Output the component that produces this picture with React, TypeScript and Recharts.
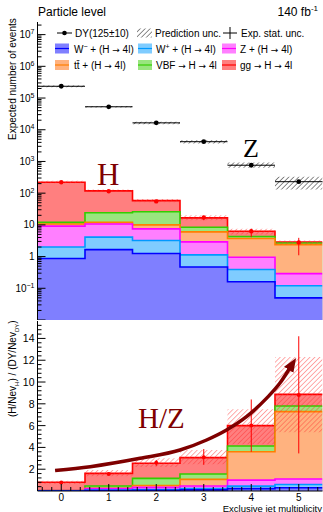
import React from "react"
import { ComposedChart, Area, Scatter, ErrorBar, Line, XAxis, YAxis } from "recharts"

const FONT = "'Liberation Sans', Arial, sans-serif"
const SERIF = "'Liberation Serif', 'Times New Roman', serif"
const MAROON = "#7f0000"

// exclusive jet multiplicity bins
const bins = [0, 1, 2, 3, 4, 5]
const binEdges = [-0.5, 0.5, 1.5, 2.5, 3.5, 4.5, 5.5]

// top panel: expected events per Higgs process (stacked bottom to top)
const evWMinus = [0.87, 1.66, 1.25, 0.47, 0.16, 0.05]
const evWPlus = [1.13, 2.44, 1.95, 0.66, 0.23, 0.07]
const evZ = [7.1, 6.6, 4.3, 1.77, 0.56, 0.17]
const evTtH = [1.6, 1.3, 2.5, 3.1, 2.75, 2.1]
const evVBF = [1.3, 12, 16, 2.4, 0.6, 0.3]
const evGG = [208, 94, 32, 8.2, 2.0, 0.2]

// H total with stat. error and prediction band
const evH = [220, 115, 55, 17, 6.3, 2.8]
const evHStatLo = [214, 111, 53, 14, 4.1, 1.1]
const evHStatHi = [226, 119, 57, 19.5, 7.6, 3.9]
const evHUncLo = [205, 108, 52, 14, 5.0, 2.4]
const evHUncHi = [245, 130, 65, 20, 7.5, 3.2]

// Drell-Yan (Z) expectation
const evDY = [2.35e5, 5.3e4, 1.65e4, 4.2e3, 760, 230]
const evDYUncLo = [2.2e5, 5.0e4, 1.5e4, 3.7e3, 630, 130]
const evDYUncHi = [2.5e5, 5.6e4, 1.8e4, 4.7e3, 930, 330]

// bottom panel: (H/Nev_H)/(DY/Nev_DY) per process
const rWMinus = [0.003, 0.03, 0.06, 0.1, 0.22, 0.3]
const rWPlus = [0.007, 0.05, 0.08, 0.13, 0.23, 0.3]
const rZ = [0.025, 0.14, 0.19, 0.23, 0.55, 0.5]
const rTtH = [0.005, 0.03, 0.17, 0.61, 2.6, 6.18]
const rVBF = [0.005, 0.21, 0.66, 0.49, 0.53, 0.52]
const rGG = [0.755, 1.16, 1.38, 1.5, 1.87, 1.07]

const rH = [0.77, 1.55, 2.6, 3.1, 6.0, 8.8]
const rStatLo = [0.72, 1.48, 2.3, 2.4, 3.6, 3.45]
const rStatHi = [0.84, 1.66, 2.85, 3.85, 8.4, 14.2]
const rUncLo = [0.65, 1.35, 2.2, 2.45, 4.3, 5.4]
const rUncHi = [0.95, 1.93, 3.0, 3.76, 7.5, 12.3]

// H/Z arrow path
const arrowX = [-0.13, 0.61, 1.66, 2.5, 3.06, 3.48, 3.9, 4.32, 4.6, 4.8]
const arrowY = [1.87, 2.23, 3.0, 3.76, 4.68, 5.6, 6.82, 8.5, 9.88, 11.2]

// tick labels
const xLabels = [0, 1, 2, 3, 4, 5]
const ratioLabels = [2, 4, 6, 8, 10, 12, 14]

const procStyles = [
  { key: "wm", fill: "#7f7fff", line: "#0000ff" },
  { key: "wp", fill: "#7fccff", line: "#0099ff" },
  { key: "z", fill: "#ff7fff", line: "#ff00ff" },
  { key: "tt", fill: "#ffb27f", line: "#ff7f00" },
  { key: "vbf", fill: "#99e57f", line: "#33cc00" },
  { key: "gg", fill: "#ff7f7f", line: "#ff0000" },
]

type Row = Record<string, number>

function cumulative(parts: number[][]): number[][] {
  const out: number[][] = []
  parts.forEach((p, j) => out.push(p.map((v, i) => v + (j > 0 ? out[j - 1][i] : 0))))
  return out
}

// one row per bin edge, last row repeats the last bin so the step closes
function stepRows(cols: Record<string, number[]>): Row[] {
  return binEdges.map((x, i) => {
    const b = Math.min(i, bins.length - 1)
    const row: Row = { x }
    Object.keys(cols).forEach((k) => (row[k] = cols[k][b]))
    return row
  })
}

const topCum = cumulative([evWMinus, evWPlus, evZ, evTtH, evVBF, evGG])
const topRows = stepRows({
  wm: topCum[0], wp: topCum[1], z: topCum[2], tt: topCum[3], vbf: topCum[4], gg: topCum[5],
  hLo: evHUncLo, hHi: evHUncHi, dyLo: evDYUncLo, dyHi: evDYUncHi,
})
const botCum = cumulative([rWMinus, rWPlus, rZ, rTtH, rVBF, rGG])
const botRows = stepRows({
  wm: botCum[0], wp: botCum[1], z: botCum[2], tt: botCum[3], vbf: botCum[4], gg: botCum[5],
  lo: rUncLo, hi: rUncHi,
})

const hPoints = bins.map((x, i) => ({ x, y: evH[i], ey: [evH[i] - evHStatLo[i], evHStatHi[i] - evH[i]] }))
const dyPoints = bins.map((x, i) => ({ x, y: evDY[i], ex: 0.5 }))
const rPoints = bins.map((x, i) => ({ x, y: rH[i], ey: [rH[i] - rStatLo[i], rStatHi[i] - rH[i]] }))
const arrowData = arrowX.map((x, i) => ({ x, y: arrowY[i] }))

const LOG_MIN = 0.01
const LOG_MAX = 2.5e7
const RATIO_MAX = 15.6

const logTicks: number[] = []
for (let n = -2; n <= 7; n++)
  for (let m = 1; m <= 9; m++) {
    const v = m * Math.pow(10, n)
    if (v < LOG_MAX) logTicks.push(v)
  }
const xTicks = Array.from({ length: 30 }, (_, i) => Number((-0.4 + i * 0.2).toFixed(1)))
const ratioTicks = Array.from({ length: 38 }, (_, i) => Number((0.4 + i * 0.4).toFixed(1)))

const isPow10 = (v: number) => {
  const l = Math.log10(v)
  return Math.abs(l - Math.round(l)) < 1e-6
}

function logTick(side: "left" | "right") {
  return (props: any) => {
    const { x, y, payload } = props
    const v = payload.value
    const major = isPow10(v)
    const n = Math.round(Math.log10(v))
    const len = (major ? 8 : 4) * (side === "left" ? 1 : -1)
    return (
      <g>
        <line x1={x} x2={x + len} y1={y} y2={y} stroke="#000" />
        {side === "left" && major && n >= -1 && (
          <text x={x - 3} y={y + 3.5} textAnchor="end" fontSize={10} fontFamily={FONT} fill="#000">
            {n === 0 ? "1" : n === 1 ? "10" : (
              <>
                10<tspan dy={-4} fontSize={7}>{n < 0 ? "\u2212" + -n : n}</tspan>
              </>
            )}
          </text>
        )}
      </g>
    )
  }
}

function ratioTick(side: "left" | "right") {
  return (props: any) => {
    const { x, y, payload } = props
    const v = payload.value
    const major = ratioLabels.includes(v)
    const len = (major ? 8 : 4) * (side === "left" ? 1 : -1)
    return (
      <g>
        <line x1={x} x2={x + len} y1={y} y2={y} stroke="#000" />
        {side === "left" && major && (
          <text x={x - 3} y={y + 4} textAnchor="end" fontSize={10.5} fontFamily={FONT} fill="#000">
            {v}
          </text>
        )}
      </g>
    )
  }
}

function xTick(dir: 1 | -1, labels: boolean) {
  return (props: any) => {
    const { x, y, payload } = props
    const v = payload.value
    const major = xLabels.includes(v)
    return (
      <g>
        <line x1={x} x2={x} y1={y} y2={y + dir * (major ? 7 : 4)} stroke="#000" />
        {labels && major && (
          <text x={x} y={y + 9.5} textAnchor="middle" fontSize={10} fontFamily={FONT} fill="#000">
            {v}
          </text>
        )}
      </g>
    )
  }
}

const dot = (r: number, fill: string) => (p: any) => <circle cx={p.cx} cy={p.cy} r={r} fill={fill} />

function TopPanel() {
  return (
    <ComposedChart width={323} height={320} data={topRows} margin={{ top: 22, right: 0.5, bottom: 0, left: 0 }}>
      <XAxis dataKey="x" type="number" domain={[-0.5, 5.5]} ticks={xTicks} interval={0} height={0}
        tickSize={0} tickMargin={0} tickLine={false} axisLine={{ stroke: "#000" }} tick={xTick(-1, false)} allowDataOverflow />
      <XAxis xAxisId="top" orientation="top" dataKey="x" type="number" domain={[-0.5, 5.5]} ticks={xTicks} interval={0} height={0}
        tickSize={0} tickMargin={0} tickLine={false} axisLine={{ stroke: "#000" }} tick={xTick(1, false)} allowDataOverflow />
      <YAxis type="number" scale="log" domain={[LOG_MIN, LOG_MAX]} ticks={logTicks} interval={0} width={37.5}
        tickSize={0} tickMargin={0} tickLine={false} axisLine={{ stroke: "#000" }} tick={logTick("left")} allowDataOverflow />
      <YAxis yAxisId="right" orientation="right" type="number" scale="log" domain={[LOG_MIN, LOG_MAX]} ticks={logTicks} interval={0} width={0}
        tickSize={0} tickMargin={0} tickLine={false} axisLine={{ stroke: "#000" }} tick={logTick("right")} allowDataOverflow />
      {[...procStyles].reverse().map((p) => (
        <Area key={p.key} type="stepAfter" dataKey={p.key} stroke={p.line} strokeWidth={1.6} fill={p.fill} fillOpacity={1}
          baseValue={LOG_MIN} dot={false} activeDot={false} isAnimationActive={false} />
      ))}
      <Area type="stepAfter" dataKey={(d: Row) => [d.hLo, d.hHi]} stroke="none" fill="url(#hatchRed)" fillOpacity={1}
        dot={false} activeDot={false} isAnimationActive={false} />
      <Area type="stepAfter" dataKey={(d: Row) => [d.dyLo, d.dyHi]} stroke="none" fill="url(#hatchBlack)" fillOpacity={1}
        dot={false} activeDot={false} isAnimationActive={false} />
      <Scatter data={dyPoints} dataKey="y" shape={dot(2.4, "#000")} isAnimationActive={false}>
        <ErrorBar dataKey="ex" direction="x" width={0} stroke="#000" strokeWidth={1} />
      </Scatter>
      <Scatter data={hPoints} dataKey="y" shape={dot(2.2, "#ff0000")} isAnimationActive={false}>
        <ErrorBar dataKey="ey" direction="y" width={0} stroke="#ff0000" strokeWidth={1} />
      </Scatter>
    </ComposedChart>
  )
}

function BottomPanel() {
  return (
    <ComposedChart width={323} height={192} data={botRows} margin={{ top: 1, right: 0.5, bottom: 0, left: 0 }}>
      <XAxis dataKey="x" type="number" domain={[-0.5, 5.5]} ticks={xTicks} interval={0} height={21}
        tickSize={0} tickMargin={0} tickLine={false} axisLine={{ stroke: "#000" }} tick={xTick(-1, true)} allowDataOverflow />
      <XAxis xAxisId="top" orientation="top" dataKey="x" type="number" domain={[-0.5, 5.5]} ticks={xTicks} interval={0} height={0}
        tickSize={0} tickMargin={0} tickLine={false} axisLine={{ stroke: "#000" }} tick={xTick(1, false)} allowDataOverflow />
      <YAxis type="number" domain={[0, RATIO_MAX]} ticks={ratioTicks} interval={0} width={37.5}
        tickSize={0} tickMargin={0} tickLine={false} axisLine={{ stroke: "#000" }} tick={ratioTick("left")} allowDataOverflow />
      <YAxis yAxisId="right" orientation="right" type="number" domain={[0, RATIO_MAX]} ticks={ratioTicks} interval={0} width={0}
        tickSize={0} tickMargin={0} tickLine={false} axisLine={{ stroke: "#000" }} tick={ratioTick("right")} allowDataOverflow />
      {[...procStyles].reverse().map((p) => (
        <Area key={p.key} type="stepAfter" dataKey={p.key} stroke={p.line} strokeWidth={1.6} fill={p.fill} fillOpacity={1}
          baseValue={0} dot={false} activeDot={false} isAnimationActive={false} />
      ))}
      <Area type="stepAfter" dataKey={(d: Row) => [d.lo, d.hi]} stroke="none" fill="url(#hatchRed)" fillOpacity={1}
        dot={false} activeDot={false} isAnimationActive={false} />
      <Scatter data={rPoints} dataKey="y" shape={dot(2, "#ff0000")} isAnimationActive={false}>
        <ErrorBar dataKey="ey" direction="y" width={0} stroke="#ff0000" strokeWidth={1} />
      </Scatter>
      <Line data={arrowData} dataKey="y" type="monotone" stroke={MAROON} strokeWidth={3.5} dot={false} activeDot={false}
        markerEnd="url(#arrowHead)" isAnimationActive={false} />
    </ComposedChart>
  )
}

function LegendBox({ x, y, fill, line }: { x: number; y: number; fill: string; line: string }) {
  return (
    <g>
      <rect x={x} y={y - 5} width={14} height={10} fill={fill} />
      <line x1={x} x2={x + 14} y1={y} y2={y} stroke={line} strokeWidth={1.2} />
    </g>
  )
}

const Arrow = () => <tspan fontFamily="'DejaVu Sans', sans-serif" fontSize={9}>{"\u2192"}</tspan>

function Overlay() {
  const t = { fontFamily: FONT, fontSize: 10, fill: "#000" }
  const sup = (s: string) => <tspan dy={-4} fontSize={7}>{s}</tspan>
  return (
    <svg width={323} height={512} style={{ position: "absolute", left: 0, top: 0, pointerEvents: "none" }}>
      <defs>
        <pattern id="hatchBlack" patternUnits="userSpaceOnUse" width={3.5} height={3.5} patternTransform="rotate(45)">
          <line x1={0} y1={0} x2={0} y2={3.5} stroke="#000" strokeWidth={0.9} />
        </pattern>
        <pattern id="hatchRed" patternUnits="userSpaceOnUse" width={3.5} height={3.5} patternTransform="rotate(45)">
          <line x1={0} y1={0} x2={0} y2={3.5} stroke="#ff3030" strokeWidth={0.8} />
        </pattern>
        <marker id="arrowHead" markerUnits="userSpaceOnUse" markerWidth={15} markerHeight={12} refX={1} refY={5.5} orient="auto">
          <path d="M0,0 L14,5.5 L0,11 z" fill={MAROON} />
        </marker>
      </defs>

      <text x={38} y={16} fontFamily={FONT} fontSize={12}>Particle level</text>
      <text x={318} y={16} textAnchor="end" fontFamily={FONT} fontSize={12}>
        140 fb<tspan dy={-5} fontSize={8}>-1</tspan>
      </text>

      <text transform="translate(16,140) rotate(-90)" {...t}>Expected number of events</text>
      <text transform="translate(16,417) rotate(-90)" {...t}>
        (H/Nev<tspan dy={3} fontSize={6}>H</tspan><tspan dy={-3}>) / (DY/Nev</tspan>
        <tspan dy={3} fontSize={6}>DY</tspan><tspan dy={-3}>)</tspan>
      </text>
      <text x={322} y={511.5} textAnchor="end" {...t} fontSize={9.5}>Exclusive jet multiplicity</text>

      {/* legend row 1 */}
      <line x1={57} x2={72} y1={33} y2={33} stroke="#000" />
      <circle cx={64.5} cy={33} r={2.3} fill="#000" />
      <text x={75} y={37} {...t}>DY(125±10)</text>
      <rect x={137} y={28.5} width={15} height={9} fill="url(#hatchBlack)" />
      <text x={155} y={37} {...t}>Prediction unc.</text>
      <line x1={223} x2={237} y1={33} y2={33} stroke="#000" />
      <line x1={230} x2={230} y1={27} y2={39} stroke="#000" />
      <text x={241} y={37} {...t}>Exp. stat. unc.</text>

      {/* legend rows 2 and 3 */}
      <LegendBox x={55} y={48.5} fill={procStyles[0].fill} line={procStyles[0].line} />
      <text x={74} y={52.5} {...t}>W{sup("\u2212")}<tspan dy={4}> + (H </tspan><Arrow /> 4l)</text>
      <LegendBox x={138} y={48.5} fill={procStyles[1].fill} line={procStyles[1].line} />
      <text x={156} y={52.5} {...t}>W{sup("+")}<tspan dy={4}> + (H </tspan><Arrow /> 4l)</text>
      <LegendBox x={222} y={48.5} fill={procStyles[2].fill} line={procStyles[2].line} />
      <text x={240} y={52.5} {...t}>Z + (H <Arrow /> 4l)</text>

      <LegendBox x={55} y={65} fill={procStyles[3].fill} line={procStyles[3].line} />
      <text x={74} y={69} {...t}>t{"t\u0304"} + (H <Arrow /> 4l)</text>
      <LegendBox x={138} y={65} fill={procStyles[4].fill} line={procStyles[4].line} />
      <text x={156} y={69} {...t}>VBF <Arrow /> H <Arrow /> 4l</text>
      <LegendBox x={222} y={65} fill={procStyles[5].fill} line={procStyles[5].line} />
      <text x={240} y={69} {...t}>gg <Arrow /> H <Arrow /> 4l</text>

      {/* annotations */}
      <text x={97} y={185} fontFamily={SERIF} fontSize={31} fill={MAROON}>H</text>
      <text x={243} y={157} fontFamily={SERIF} fontSize={26} fill="#000">Z</text>
      <text x={138} y={428} fontFamily={SERIF} fontSize={29} fill={MAROON}>H/Z</text>
    </svg>
  )
}

export default function App() {
  return (
    <div style={{ position: "absolute", left: 0, top: 0, width: 323, height: 512, background: "#fff" }}>
      <div style={{ position: "absolute", left: 0, top: 0 }}>
        <TopPanel />
      </div>
      <div style={{ position: "absolute", left: 0, top: 320 }}>
        <BottomPanel />
      </div>
      <Overlay />
    </div>
  )
}
